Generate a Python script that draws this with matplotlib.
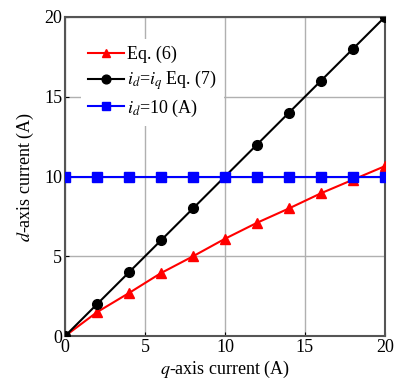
import matplotlib.pyplot as plt
import numpy as np

plt.rcParams['font.family'] = ['Liberation Serif', 'DejaVu Serif']
plt.rcParams['mathtext.fontset'] = 'stix'

# data
iq = [0, 2, 4, 6, 8, 10, 12, 14, 16, 18, 20]
id_eq6 = [0, 1.5, 2.7, 3.95, 5.0, 6.1, 7.1, 8.0, 8.95, 9.8, 10.65]
id_eq7 = [0, 2, 4, 6, 8, 10, 12, 14, 16, 18, 20]
id_const = [10, 10, 10, 10, 10, 10, 10, 10, 10, 10, 10]

fig = plt.figure(figsize=(3.94, 3.85), dpi=100)
ax = fig.add_axes([0.165, 0.127, 0.812, 0.829])

ax.plot(iq, id_eq6, '-', color='red', marker='^', ms=7, lw=1.5,
        label='Eq. (6)', zorder=3)
ax.plot(iq, id_eq7, '-', color='black', marker='o', ms=7, lw=1.5,
        label=r'$i_d$=$i_q$ Eq. (7)', zorder=3)
ax.plot(iq, id_const, '-', color='blue', marker='s', ms=6.5, lw=1.5,
        label=r'$i_d$=10 (A)', zorder=3)

ax.set(xlim=[0, 20], ylim=[0, 20])
ax.set_xticks([0, 5, 10, 15, 20])
ax.set_yticks([0, 5, 10, 15, 20])
ax.grid(True, color='#b0b0b0', lw=1)
ax.tick_params(direction='in', length=3, labelsize=13, pad=2)
for sp in ax.spines.values():
    sp.set_color('#555555')
    sp.set_linewidth(1.5)

ax.set_xlabel(r'$q$-axis current (A)', fontsize=13, labelpad=2)
ax.set_ylabel(r'$d$-axis current (A)', fontsize=13, labelpad=6)

ax.legend(loc='upper left', bbox_to_anchor=(0.022, 0.96), frameon=True,
          edgecolor='none', framealpha=1, fontsize=13, handlelength=2.0,
          handletextpad=0.15, labelspacing=0.3, borderpad=0.4,
          markerscale=0.9)

fig.savefig('out.png', dpi=100)
